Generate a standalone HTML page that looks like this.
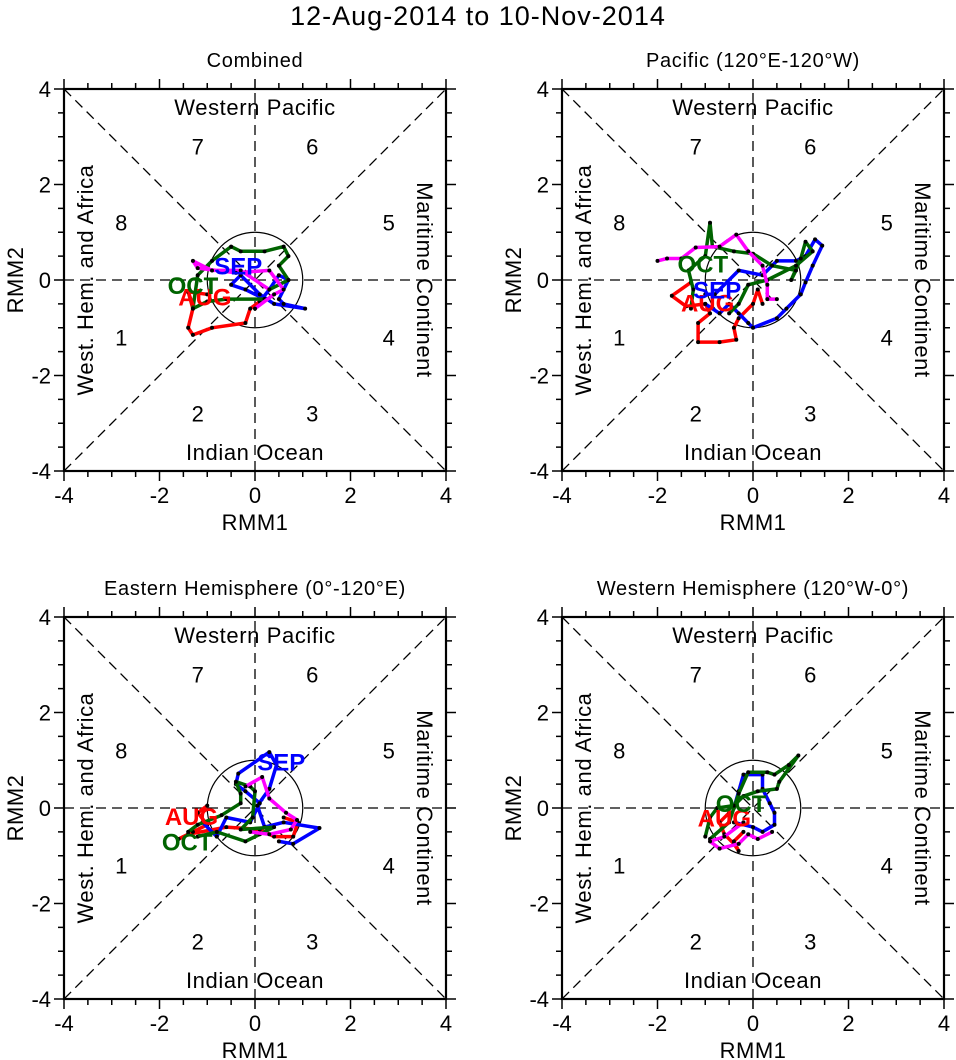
<!DOCTYPE html>
<html><head><meta charset="utf-8"><style>
html,body{margin:0;padding:0;background:#fff;}
svg{display:block;font-family:"Liberation Sans",Arial,sans-serif;}
</style></head><body>
<svg id="chart" width="956" height="1060" viewBox="0 0 956 1060" xmlns="http://www.w3.org/2000/svg">
<text x="478" y="25" text-anchor="middle" font-size="27" letter-spacing="1">12-Aug-2014 to 10-Nov-2014</text>
</svg>
<script>
const panelTitles = ["Combined","Pacific (120°E-120°W)","Eastern Hemisphere (0°-120°E)","Western Hemisphere (120°W-0°)"];
const tickValues = [-4,-2,0,2,4];
const phaseLabels = ["1","2","3","4","5","6","7","8"];
const phaseAnchors = [[-2.8,-1.2],[-1.2,-2.8],[1.2,-2.8],[2.8,-1.2],[2.8,1.2],[1.2,2.8],[-1.2,2.8],[-2.8,1.2]];
const monthNames = ["AUG","SEP","OCT"];
const monthColors = ["#ff0000","#0000ff","#006400"];
const p1Aug = [[-1.0,-0.3],[-1.4,-0.25],[-1.3,-0.6],[-1.4,-1.0],[-1.3,-1.15],[-0.9,-1.0],[-0.2,-0.9],[-0.1,-0.6],[0.1,-0.45]];
const p1Sep = [[0.1,-0.45],[0.3,-0.2],[0.5,0.1],[0.7,0.0],[0.5,-0.4],[0.6,-0.5],[1.05,-0.6],[0.4,-0.5],[0.1,-0.3],[-0.3,0.1],[-0.5,-0.1],[-0.2,-0.2],[0.2,-0.4]];
const p1Oct = [[0.2,-0.4],[-0.6,-0.4],[-1.0,-0.45],[-1.3,-0.6],[-1.2,0.1],[-0.9,0.4],[-0.5,0.7],[-0.3,0.6],[0.2,0.6],[0.6,0.7],[0.7,0.5],[0.5,0.3],[0.7,0.0],[0.3,-0.2]];
const p1Nov = [[0.3,-0.2],[-0.3,0.2],[-0.9,0.2],[-1.3,0.4],[-1.2,0.25],[-0.4,0.15],[0.3,0.2],[0.6,-0.2],[0.4,-0.3],[0.0,-0.6]];
const p2Aug = [[-1.3,-0.05],[-1.7,-0.33],[-1.4,-0.55],[-1.0,-0.5],[-0.9,-0.7],[-1.15,-0.9],[-1.15,-1.3],[-0.7,-1.3],[-0.35,-1.25],[-0.4,-1.0],[-0.3,-0.8],[0.0,-0.5],[0.1,-0.2],[0.2,-0.5]];
const p2Sep = [[-1.0,-0.5],[-0.7,-0.7],[-0.5,-0.5],[-0.3,-0.7],[-0.1,-0.9],[0.0,-1.0],[0.5,-0.8],[0.7,-0.6],[1.0,-0.3],[1.1,-0.05],[1.25,0.3],[1.45,0.72],[1.3,0.85],[1.1,0.5],[0.9,0.4],[0.5,0.4],[0.2,0.1],[-0.3,0.2],[-0.8,-0.3],[-1.0,-0.3]];
const p2Oct = [[-1.3,-0.6],[-1.25,-0.2],[-1.35,0.2],[-1.0,0.5],[-0.9,1.2],[-0.85,0.7],[-0.4,0.6],[0.0,0.55],[0.4,0.3],[0.9,0.2],[0.8,0.0],[1.0,0.45],[1.1,0.8],[1.25,0.6],[0.9,0.3],[0.3,0.0],[-0.1,-0.1],[-0.3,-0.5],[-0.5,-0.7]];
const p2Nov = [[-2.0,0.4],[-1.8,0.45],[-1.5,0.45],[-1.2,0.68],[-0.7,0.7],[-0.35,0.95],[-0.1,0.6],[0.2,0.3],[0.3,-0.1],[0.3,-0.4],[0.5,-0.4]];
const p3Aug = [[-1.0,0.05],[-1.2,-0.1],[-1.0,-0.35],[-1.3,-0.5],[-1.6,-0.65],[-1.4,-0.55],[-0.6,-0.4],[0.1,-0.45],[0.4,-0.6],[0.8,-0.6],[0.9,-0.3],[0.6,-0.2]];
const p3Sep = [[-1.1,-0.3],[-0.8,-0.6],[-0.6,-0.2],[-0.1,-0.3],[0.1,0.1],[-0.2,0.35],[-0.4,0.5],[-0.35,0.72],[0.3,1.17],[0.45,0.9],[0.3,0.4],[0.05,0.05],[0.2,-0.4],[0.6,-0.3],[1.35,-0.42],[0.8,-0.75],[0.5,-0.7]];
const p3Oct = [[-1.4,-0.5],[-1.2,-0.35],[-0.7,-0.15],[-0.3,0.1],[-0.3,0.3],[-0.4,0.55],[-0.1,0.45],[0.0,0.35],[-0.05,-0.2],[-0.3,-0.45],[0.4,-0.4],[0.1,-0.55],[-0.2,-0.7],[-0.8,-0.5],[-1.2,-0.6]];
const p3Nov = [[-0.2,0.45],[0.15,0.65],[0.3,0.2],[0.65,-0.1],[0.88,-0.25],[0.75,-0.45],[0.3,-0.55],[-0.1,-0.5]];
const p4Aug = [[-0.5,-0.1],[-0.7,-0.3],[-0.6,-0.55],[-0.4,-0.75],[-0.3,-0.9],[-0.4,-0.7],[-0.2,-0.5]];
const p4Sep = [[-0.4,0.0],[-0.3,0.35],[-0.2,0.7],[0.2,0.7],[0.2,0.4],[0.35,0.1],[0.45,-0.1],[0.45,-0.35],[0.2,-0.5],[0.0,-0.4],[-0.4,-0.3]];
const p4Oct = [[-1.0,-0.6],[-0.9,-0.2],[-0.75,0.0],[-0.4,0.05],[-0.2,0.25],[0.1,0.35],[0.5,0.4],[0.55,0.55],[0.95,1.1],[0.75,0.9],[0.45,0.7],[0.3,0.75],[-0.1,0.75],[-0.3,0.3],[-0.5,-0.3],[-0.9,-0.65]];
const p4Nov = [[-0.2,-0.3],[-0.6,-0.6],[-0.9,-0.7],[-0.7,-0.85],[-0.3,-0.75],[-0.1,-0.55],[0.1,-0.65],[0.4,-0.5]];
const monthLabelPos = [
  [[-1.05,-0.35],[-0.35,0.3],[-1.3,-0.1]],
  [[-0.95,-0.47],[-0.75,-0.2],[-1.05,0.35]],
  [[-1.33,-0.17],[0.55,0.97],[-1.42,-0.7]],
  [[-0.6,-0.2],null,[-0.25,0.1]]
];
const panelSeries = [[p1Aug,p1Sep,p1Oct,p1Nov],[p2Aug,p2Sep,p2Oct,p2Nov],[p3Aug,p3Sep,p3Oct,p3Nov],[p4Aug,p4Sep,p4Oct,p4Nov]];
const seriesColors = ["#ff0000","#0000ff","#006400","#ff00ff"];
const seriesNames = ["aug","sep","oct","nov"];

const svg = document.getElementById('chart');
const NS = "http://www.w3.org/2000/svg";
const origins = [[64,89],[562,89],[64,617],[562,617]];
const S = 382;
function el(tag, attrs, parent){const e=document.createElementNS(NS,tag);for(const k in attrs)e.setAttribute(k,attrs[k]);(parent||svg).appendChild(e);return e;}

panelSeries.forEach((series, pi) => {
  const [ox, oy] = origins[pi];
  const sx = v => ox + (v + 4) / 8 * S;
  const sy = v => oy + (4 - v) / 8 * S;
  const g = el('g', {});
  
  
  const t = el('text', {x: ox + S/2, y: oy - 22, 'text-anchor':'middle', 'font-size':20, 'letter-spacing':0.7}, g);
  t.textContent = panelTitles[pi];
  
  
  const dash = {stroke:'#000','stroke-width':1.3,'stroke-dasharray':'10,6',fill:'none'};
  [[-4,-4,4,4],[-4,4,4,-4],[-4,0,4,0],[0,-4,0,4]].forEach(l=>{
    const ln = el('line', Object.assign({x1:sx(l[0]),y1:sy(l[1]),x2:sx(l[2]),y2:sy(l[3])},dash), g);
    
    
  });
  const c = el('circle',{cx:sx(0),cy:sy(0),r:S/8,fill:'none',stroke:'#000','stroke-width':1.2}, g);
  
  
  const lab = {'text-anchor':'middle','font-size':22,'letter-spacing':0.6};
  const wp = el('text',Object.assign({x:sx(0),y:oy+26},lab),g); wp.textContent='Western Pacific';
   
  const io = el('text',Object.assign({x:sx(0),y:oy+S-11},lab),g); io.textContent='Indian Ocean';
   
  const wh = el('text',Object.assign({x:0,y:0,transform:`translate(${ox+29},${sy(0)}) rotate(-90)`},lab),g); wh.textContent='West. Hem. and Africa';
   
  const mc = el('text',Object.assign({x:0,y:0,transform:`translate(${ox+S-29},${sy(0)}) rotate(90)`},lab),g); mc.textContent='Maritime Continent';
   
  phaseLabels.forEach((p,i)=>{
    const pt = el('text',{x:sx(phaseAnchors[i][0]),y:sy(phaseAnchors[i][1])+8,'text-anchor':'middle','font-size':22},g);
    pt.textContent = p;
    
    
  });
  series.forEach((pts, si) => {
    const d = pts.map((p,i)=>(i?'L':'M')+sx(p[0]).toFixed(1)+','+sy(p[1]).toFixed(1)).join(' ');
    const path = el('path',{d:d,fill:'none',stroke:seriesColors[si],'stroke-width':3.5,'stroke-linejoin':'round'},g);
    
    
    pts.forEach(p=>{
      const dot = el('circle',{cx:sx(p[0]),cy:sy(p[1]),r:2,fill:'#000'},g);
      
      
    });
  });
  monthLabelPos[pi].forEach((pos, mi) => {
    if (!pos) return;
    const mt = el('text',{x:sx(pos[0]),y:sy(pos[1])+9,'text-anchor':'middle','font-size':24,'font-weight':'bold',fill:monthColors[mi]},g);
    mt.textContent = monthNames[mi];
    
    
  });
  const fr = el('rect',{x:ox,y:oy,width:S,height:S,fill:'none',stroke:'#000','stroke-width':2.2},g);
  
  
  for (let v=-4; v<=4.001; v+=0.5) {
    const major = Math.abs(v - Math.round(v/2)*2) < 1e-6;
    const L = major ? 10 : 6;
    [[sx(v),oy+S,sx(v),oy+S+L],[sx(v),oy,sx(v),oy-L],[ox,sy(v),ox-L,sy(v)],[ox+S,sy(v),ox+S+L,sy(v)]].forEach(l=>{
      const tk = el('line',{x1:l[0],y1:l[1],x2:l[2],y2:l[3],stroke:'#000','stroke-width':1.5},g);
      
      
    });
  }
  tickValues.forEach(v=>{
    const xl = el('text',{x:sx(v),y:oy+S+32,'text-anchor':'middle','font-size':22},g); xl.textContent=v;
     
    const yl = el('text',{x:ox-13,y:sy(v)+8,'text-anchor':'end','font-size':22},g); yl.textContent=v;
     
  });
  const xt = el('text',{x:ox+S/2,y:oy+S+59,'text-anchor':'middle','font-size':22,'letter-spacing':0.5},g); xt.textContent='RMM1';
   
  const yt = el('text',{x:0,y:0,'text-anchor':'middle','font-size':22,'letter-spacing':0.5,transform:`translate(${ox-41},${oy+S/2}) rotate(-90)`},g); yt.textContent='RMM2';
   
});
</script>
</body></html>
